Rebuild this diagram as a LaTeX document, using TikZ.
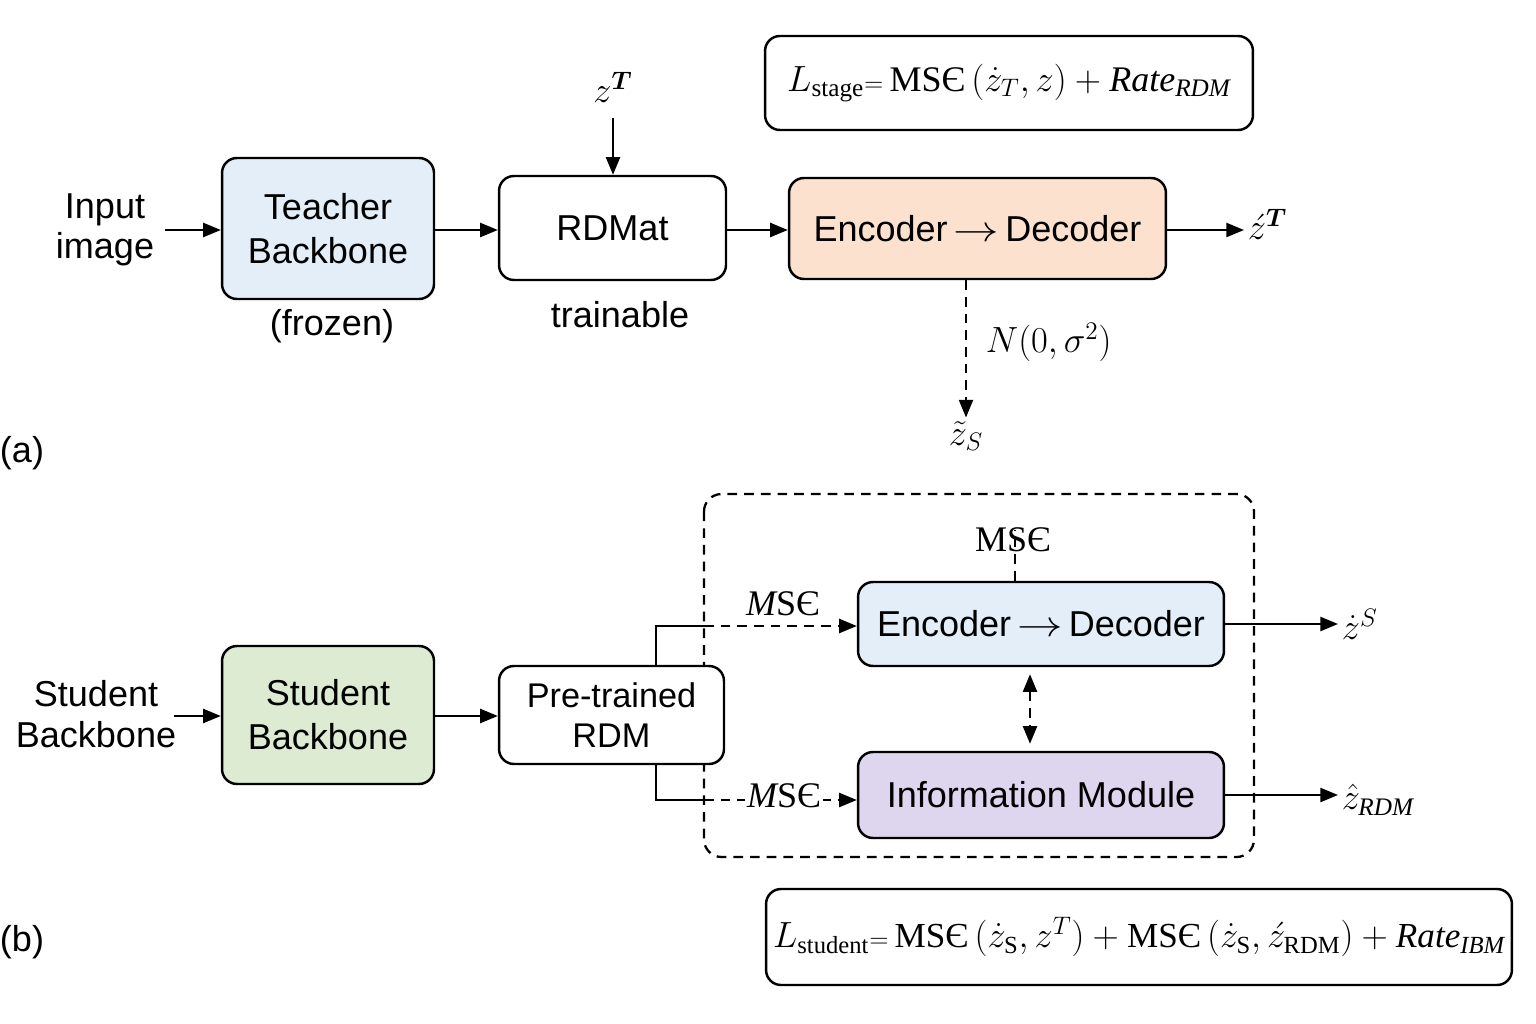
\documentclass[tikz,border=0pt]{standalone}
\usepackage{amsmath}
\usepackage{graphicx}
\usepackage[no-math]{fontspec}
\setmainfont{Liberation Sans}
\newfontfamily\serif{Liberation Serif}
\newcommand{\mseU}{\text{\serif MSЄ}}
\newcommand{\mseI}{\text{\serif{\itshape M}SЄ}}
\newcommand{\rate}{\text{\serif\itshape Rate}}
\newcommand{\srm}[1]{\text{\serif #1}}
\newcommand{\sit}[1]{\text{\serif\itshape #1}}
\newcommand{\encarrow}{\,\scalebox{1.25}[1]{$\rightarrow$}\,}
\usetikzlibrary{arrows.meta}
\definecolor{bluefill}{HTML}{E4EEF9}
\definecolor{peach}{HTML}{FCE2CE}
\definecolor{greenfill}{HTML}{DDEBD3}
\definecolor{lav}{HTML}{DED6EE}
\begin{document}
\begin{tikzpicture}[x=0.02cm,y=-0.02cm,
  box/.style={draw, line width=1.4pt, rounded corners=8.5pt, align=center, inner sep=0pt,
    font=\fontsize{20.5}{25}\selectfont},
  lbl/.style={align=center, inner sep=1pt, font=\fontsize{20.5}{23}\selectfont},
  mlbl/.style={inner sep=2pt, font=\fontsize{20.5}{23}\selectfont},
  fbox/.style={draw, line width=1.4pt, rounded corners=8.5pt, inner sep=0pt},
  arr/.style={-{Triangle[length=10pt,width=8pt]}, line width=1.1pt},
  dsh/.style={dash pattern=on 5.5pt off 4pt},
  plain/.style={line width=1.1pt}]
\useasboundingbox (0,0) rectangle (1536,1024);

% ---------- (a) ----------
\node[lbl] (inp) at (105,230) {Input\\image};
\node[box, fill=bluefill, minimum width=4.24cm, minimum height=2.82cm] (teacher) at (328,228.5) {Teacher\\Backbone};
\node[lbl] (frozen) at (332,326) {(frozen)};
\node[box, minimum width=4.54cm, minimum height=2.08cm] (rdmat) at (612.5,228) {RDMat};
\node[lbl] (trainable) at (620,315) {trainable};
\node[mlbl] (zT) at (613,87) {$z^{\boldsymbol{T}}$};
\node[box, fill=peach, minimum width=7.54cm, minimum height=2.02cm] (enca) at (977.5,228.5) {Encoder\encarrow Decoder};
\node[mlbl, anchor=west] (zdT) at (1244,224) {$\acute{z}^{\boldsymbol{T}}$};
\node[mlbl] (zs) at (966,436) {$\tilde{z}_S$};
\node[mlbl, anchor=west] (noise) at (982,342) {$N(0,\sigma^2)$};
\node[fbox, minimum width=9.76cm, minimum height=1.88cm, font=\fontsize{20.5}{25}\selectfont] (fa) at (1009,83)
  {$L_{\srm{stage}}{\scriptstyle =}\,\mseU\,(\dot z_T, z) + \rate_{\sit{RDM}}$};
\node[lbl] (la) at (22,453) {(a)};

\coordinate (inpE) at (165,230);
\coordinate (zTtop) at (613,118);
\draw[arr] (inpE) -- (teacher.west |- inpE);
\draw[arr] (teacher.east |- inpE) -- (rdmat.west |- inpE);
\draw[arr] (rdmat.east |- inpE) -- (enca.west |- inpE);
\draw[arr] (enca.east |- inpE) -- (zdT.west |- inpE);
\draw[arr] (zTtop) -- (rdmat.north -| zTtop);
\draw[arr, dsh] (enca.south -| zs) -- (zs.north);

% ---------- (b) ----------
\draw[line width=1.3pt, dsh, rounded corners=10pt] (704,494) rectangle (1254,857);
\node[lbl] (sbl) at (96,714) {Student\\Backbone};
\node[box, fill=greenfill, minimum width=4.24cm, minimum height=2.76cm] (student) at (328,715) {Student\\Backbone};
\node[box, fill=white, minimum width=4.5cm, minimum height=1.96cm, font=\fontsize{19.5}{23}\selectfont] (pre) at (611.5,715) {Pre-trained\\RDM};
\node[box, fill=bluefill, minimum width=7.32cm, minimum height=1.68cm] (encb) at (1041,624) {Encoder\encarrow Decoder};
\node[box, fill=lav, minimum width=7.32cm, minimum height=1.72cm] (info) at (1041,795) {Information Module};
\node[mlbl, anchor=west] (zdS) at (1338,624) {$\dot{z}^{S}$};
\node[mlbl, anchor=west] (zR) at (1338,800) {$\hat{z}_{\sit{RDM}}$};
\node[fbox, minimum width=14.92cm, minimum height=1.92cm, font=\fontsize{20}{25}\selectfont] (fb) at (1139,937)
  {$L_{\srm{student}}{\scriptstyle =}\,\mseU\,(\dot z_{\srm{S}}, z^T) + \mseU\,(\dot z_{\srm{S}}, \acute z_{\srm{RDM}}) + \rate_{\sit{IBM}}$};
\node[lbl] (lb) at (22,942) {(b)};

\coordinate (sE) at (174,716);
\draw[arr] (sE) -- (student.west |- sE);
\draw[arr] (student.east |- sE) -- (pre.west |- sE);

% top branch
\coordinate (k1) at (656,626);
\coordinate (kb1) at (704,626);
\draw[plain] (pre.north -| k1) -- (k1) -- (kb1);
\draw[arr, dsh] (kb1) -- (encb.west |- kb1);
\node[mlbl] (mse1) at (783,604) {$\mseI$};
% bottom branch
\coordinate (k2) at (656,800);
\coordinate (kb2) at (704,800);
\draw[plain] (pre.south -| k2) -- (k2) -- (kb2);
\draw[arr, dsh] (kb2) -- (info.west |- kb2);
\node[mlbl, fill=white, inner sep=1pt] (mse2) at (784,796) {$\mseI$};
% MSE above encoder
\coordinate (mt) at (1015,530);
\draw[plain, dsh] (encb.north -| mt) -- (mt);
\node[mlbl] (mse3) at (1013,540) {$\mseU$};
% double arrow
\coordinate (dx) at (1030,0);
\draw[{Triangle[length=10pt,width=8pt]}-{Triangle[length=10pt,width=8pt]}, line width=1.1pt, dsh, shorten <=4pt, shorten >=4pt]
  (encb.south -| dx) -- (info.north -| dx);
% outputs
\draw[arr] (encb.east) -- (zdS.west |- encb.east);
\draw[arr] (info.east) -- (zR.west |- info.east);
\end{tikzpicture}
\end{document}
